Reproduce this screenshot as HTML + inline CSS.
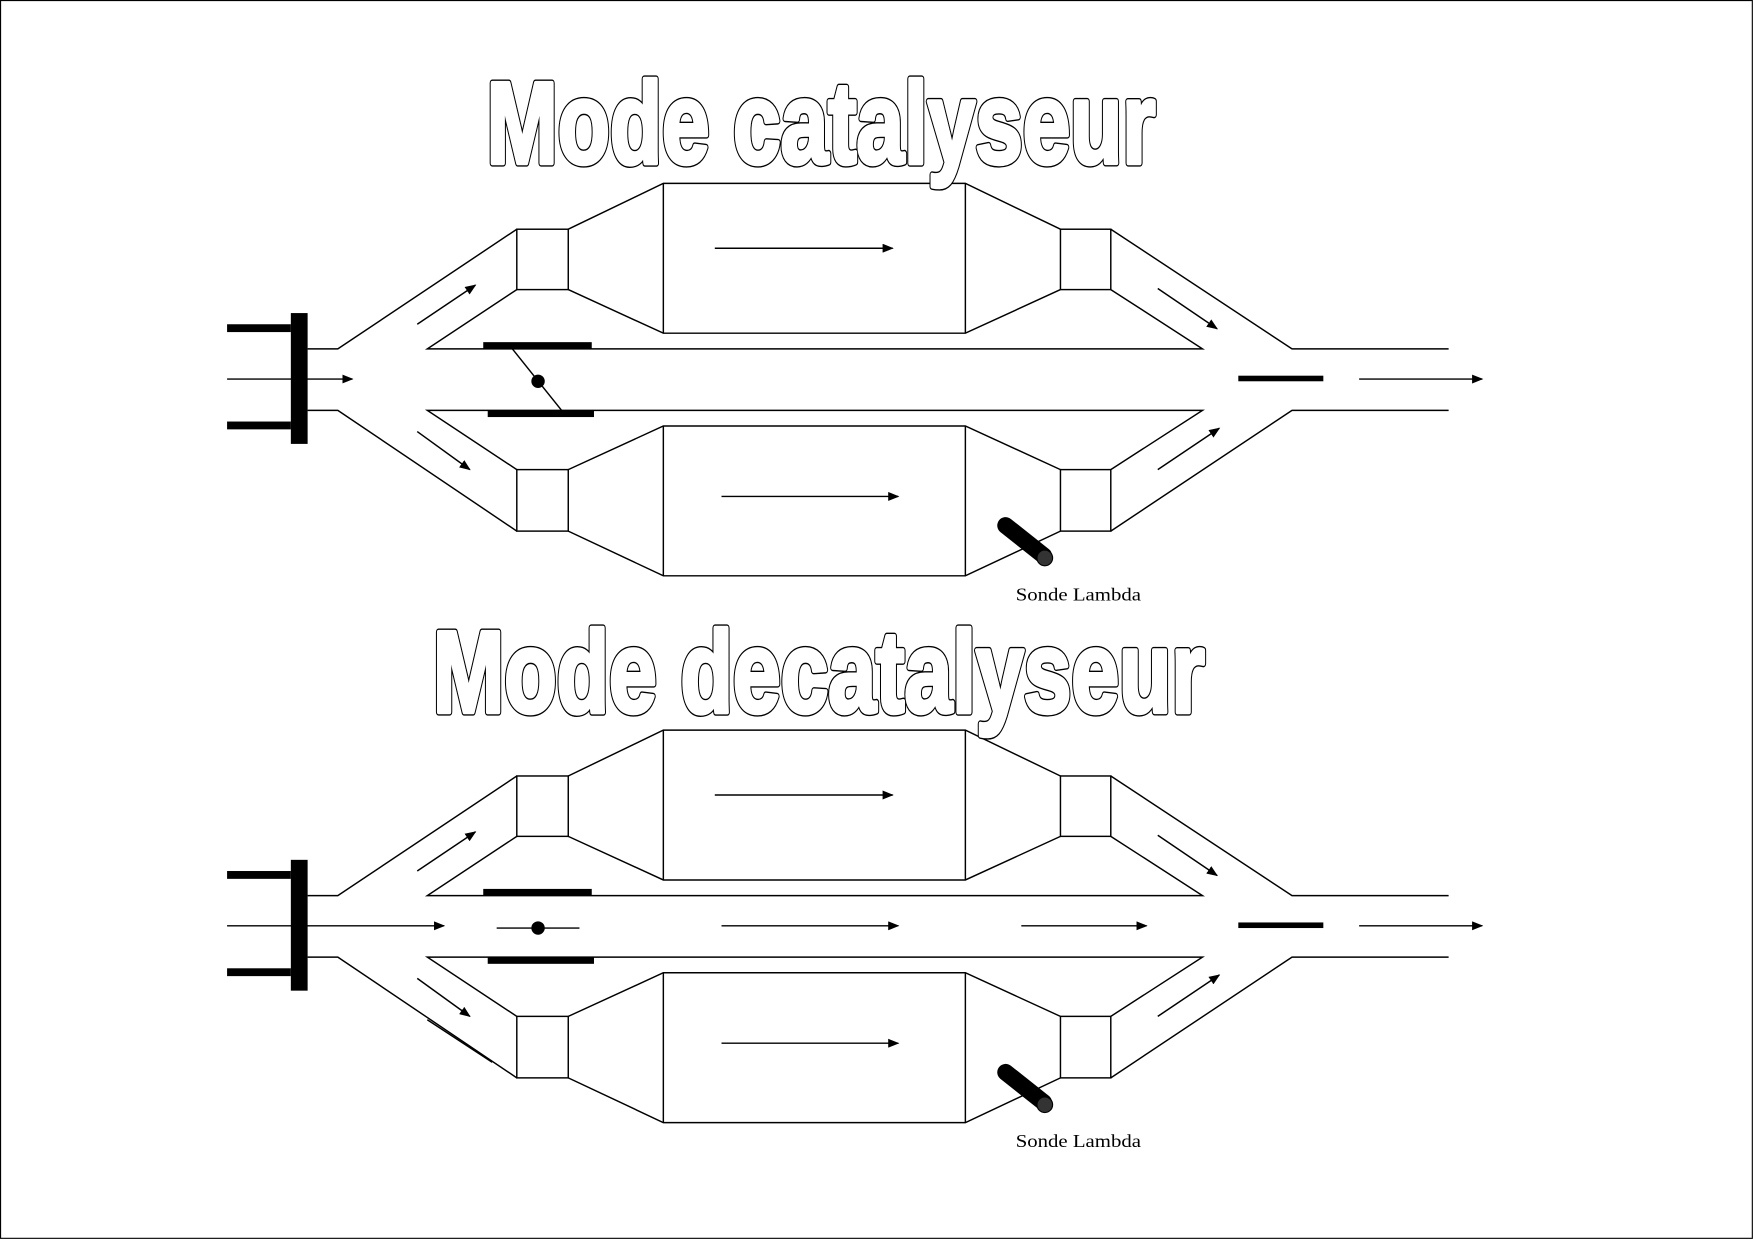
<!DOCTYPE html>
<html><head><meta charset="utf-8"><style>
html,body{margin:0;padding:0;background:#fff;width:1754px;height:1240px;overflow:hidden}
svg{display:block}
</style></head><body>
<svg width="1754" height="1240" viewBox="0 0 1568 1109" preserveAspectRatio="none" xmlns="http://www.w3.org/2000/svg">
<defs>
<marker id="a" markerWidth="10" markerHeight="8" refX="9" refY="4" orient="auto" markerUnits="userSpaceOnUse"><path d="M0,0 L10,4 L0,8 Z" fill="#000"/></marker>
<g id="base" fill="none" stroke="#000" stroke-width="1.3">
  <polyline points="275,312 302,312 462,205"/>
  <polyline points="275,367 302,367 462,475"/>
  <polyline points="462,259 382,312 1075,312 993,259"/>
  <polyline points="462,420 382,367 1075,367 993,420"/>
  <polyline points="993,205 1155,312 1295,312"/>
  <polyline points="993,475 1155,367 1295,367"/>
  <rect x="462" y="205" width="46" height="54"/>
  <polyline points="508,205 593,164 863,164 948,205"/>
  <polyline points="508,259 593,298 863,298 948,259"/>
  <line x1="593" y1="164" x2="593" y2="298"/>
  <line x1="863" y1="164" x2="863" y2="298"/>
  <rect x="948" y="205" width="45" height="54"/>
  <rect x="462" y="420" width="46" height="55"/>
  <polyline points="508,420 593,381 863,381 948,420"/>
  <polyline points="508,475 593,515 863,515 948,475"/>
  <line x1="593" y1="381" x2="593" y2="515"/>
  <line x1="863" y1="381" x2="863" y2="515"/>
  <rect x="948" y="420" width="45" height="55"/>
  <line x1="373" y1="290" x2="425" y2="255" marker-end="url(#a)"/>
  <line x1="373" y1="386" x2="420" y2="420" marker-end="url(#a)"/>
  <line x1="639" y1="222" x2="798" y2="222" marker-end="url(#a)"/>
  <line x1="645" y1="444" x2="803" y2="444" marker-end="url(#a)"/>
  <line x1="1035" y1="258" x2="1088" y2="294" marker-end="url(#a)"/>
  <line x1="1035" y1="420" x2="1090" y2="383" marker-end="url(#a)"/>
  <line x1="1215" y1="339" x2="1325" y2="339" marker-end="url(#a)"/>
  <rect x="260" y="280" width="15" height="117" fill="#000" stroke="none"/>
  <rect x="203" y="290" width="57" height="7" fill="#000" stroke="none"/>
  <rect x="203" y="377" width="57" height="7" fill="#000" stroke="none"/>
  <rect x="1107" y="336" width="76" height="5" fill="#000" stroke="none"/>
  <line x1="899" y1="470" x2="933" y2="497" stroke="#000" stroke-width="15" stroke-linecap="round"/>
  <circle cx="934" cy="499" r="7" fill="#333" stroke="#000" stroke-width="1"/>
  <text x="908" y="537" font-family="Liberation Serif, serif" font-size="16" textLength="112" lengthAdjust="spacingAndGlyphs" fill="#000" stroke="none">Sonde Lambda</text>
</g>
</defs>
<rect x="0.5" y="0.5" width="1566" height="1107" fill="none" stroke="#000" stroke-width="1"/>

<use href="#base"/>
<g stroke="#000" stroke-width="1.3" fill="none">
  <line x1="203" y1="339" x2="315" y2="339" marker-end="url(#a)"/>
  <line x1="458" y1="312" x2="502" y2="367"/>
</g>
<rect x="432" y="306" width="97" height="6" fill="#000"/>
<rect x="436" y="367" width="95" height="6" fill="#000"/>
<circle cx="481" cy="341" r="6" fill="#000"/>

<g transform="translate(0,489)"><use href="#base"/></g>
<g stroke="#000" stroke-width="1.3" fill="none">
  <line x1="203" y1="828" x2="397" y2="828" marker-end="url(#a)"/>
  <line x1="645" y1="828" x2="803" y2="828" marker-end="url(#a)"/>
  <line x1="913" y1="828" x2="1025" y2="828" marker-end="url(#a)"/>
  <line x1="444" y1="830" x2="518" y2="830"/>
  <line x1="382" y1="912" x2="440" y2="950"/>
</g>
<rect x="432" y="795" width="97" height="6" fill="#000"/>
<rect x="436" y="856" width="95" height="6" fill="#000"/>
<circle cx="481" cy="830" r="6" fill="#000"/>

<g font-family="Liberation Sans Narrow, Liberation Sans, sans-serif" font-weight="bold" font-size="104" stroke-linejoin="round">
<text x="435" y="146" textLength="598" lengthAdjust="spacingAndGlyphs" fill="#fff" stroke="#000" stroke-width="6.5">Mode catalyseur</text>
<text x="435" y="146" textLength="598" lengthAdjust="spacingAndGlyphs" fill="#fff" stroke="#fff" stroke-width="4">Mode catalyseur</text>
<text x="387" y="637" textLength="690" lengthAdjust="spacingAndGlyphs" fill="#fff" stroke="#000" stroke-width="6.5">Mode decatalyseur</text>
<text x="387" y="637" textLength="690" lengthAdjust="spacingAndGlyphs" fill="#fff" stroke="#fff" stroke-width="4">Mode decatalyseur</text>
</g>
</svg>
</body></html>
